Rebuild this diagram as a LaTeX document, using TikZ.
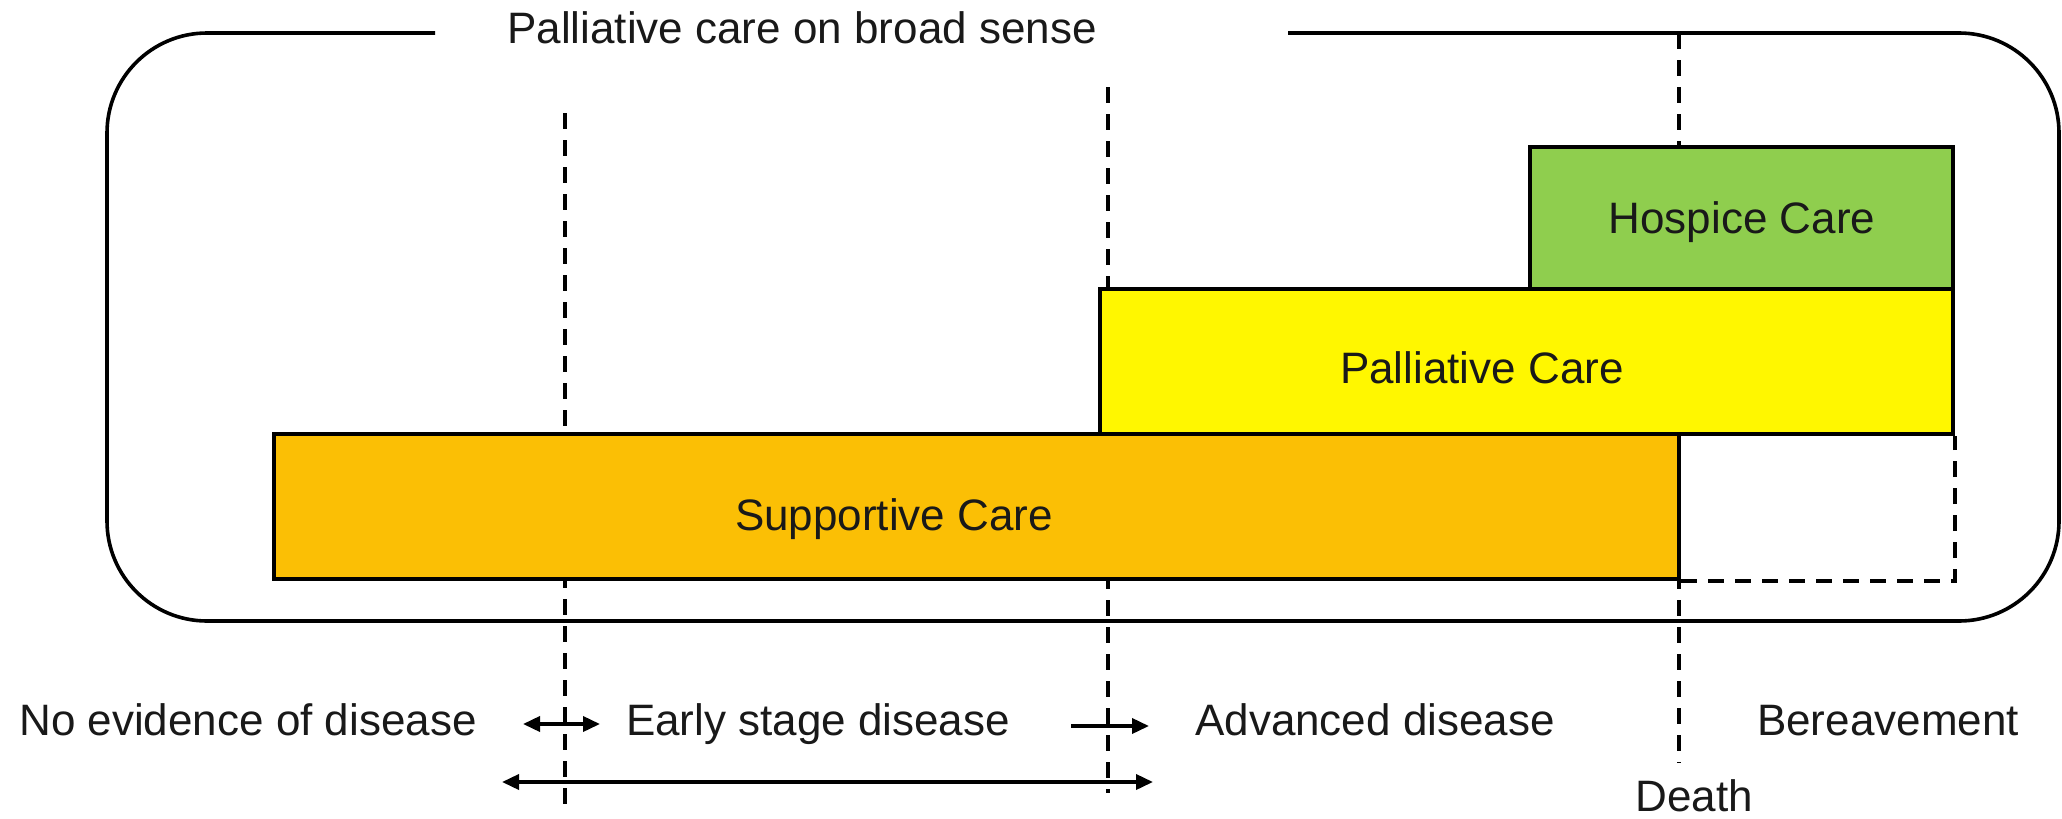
\documentclass[tikz,border=0pt]{standalone}
\usepackage{fontspec}
\setmainfont{Liberation Sans}
\usetikzlibrary{arrows.meta}
\definecolor{supfill}{RGB}{251,191,5}
\definecolor{palfill}{RGB}{255,247,0}
\definecolor{hosfill}{RGB}{143,206,78}
\definecolor{ink}{RGB}{25,25,25}
\begin{document}
\begin{tikzpicture}[x=1pt,y=-1pt,
  carebox/.style={draw=black, line width=4pt, inner sep=0pt, rectangle},
  caretext/.style={anchor=base, inner sep=0pt, font=\fontsize{44}{50}\selectfont, text=ink},
  guide/.style={line width=3.4pt, dash pattern=on 16pt off 11pt},
  frame/.style={line width=3.6pt, rounded corners=100pt},
  spanone/.style={line width=3.6pt, -{Triangle[length=17pt,width=15pt]}},
  spanboth/.style={line width=3.6pt, {Triangle[length=17pt,width=15pt]}-{Triangle[length=17pt,width=15pt]}},
  ]
\useasboundingbox (0,0) rectangle (2062,819);

% outer frame, open at the top for the title
\draw[frame] (435,33) -- (107,33) -- (107,621) -- (2059,621) -- (2059,33) -- (1288,33);
\node[caretext] (title) at (802,43) {Palliative care on broad sense};

% stage boundaries
\coordinate (gAtop) at (565,113);
\coordinate (gAend) at (565,808);
\coordinate (gBtop) at (1108,87);
\coordinate (gBend) at (1108,793);
\coordinate (dtop) at (1679,33);
\coordinate (dend) at (1679,763);
\draw[guide] (gAtop) -- (gAend);
\draw[guide] (gBtop) -- (gBend);
\draw[guide] (dtop) -- (dend);

% care bands
\node[carebox, fill=hosfill, minimum width=423pt, minimum height=142pt] (hos) at (1741.5,218) {};
\node[carebox, fill=palfill, minimum width=853pt, minimum height=145pt] (pal) at (1526.5,361.5) {};
\node[carebox, fill=supfill, minimum width=1405pt, minimum height=145pt] (sup) at (976.5,506.5) {};

% bereavement extension
\draw[guide] (sup.south east) -- (sup.south east -| pal.east) -- (pal.south east);

\node[caretext] (hostext) at (1742,233) {Hospice Care};
\node[caretext] (paltext) at (1482,383) {Palliative Care};
\node[caretext] (suptext) at (894,530) {Supportive Care};

% stages along the time line
\node[caretext] (noev) at (248,735) {No evidence of disease};
\node[caretext] (early) at (818,735) {Early stage disease};
\node[caretext] (adv) at (1375,735) {Advanced disease};
\node[caretext] (ber) at (1888,735) {Bereavement};
\node[caretext] (death) at (1694,811) {Death};

\coordinate (aOneL) at (523,724);
\coordinate (aOneR) at (600,724);
\coordinate (aTwoL) at (1071,726);
\coordinate (aTwoR) at (1149,726);
\coordinate (aLongL) at (502,782);
\coordinate (aLongR) at (1153,782);
\draw[spanboth] (aOneL) -- (aOneR);
\draw[spanone] (aTwoL) -- (aTwoR);
\draw[spanboth] (aLongL) -- (aLongR);
\end{tikzpicture}
\end{document}
